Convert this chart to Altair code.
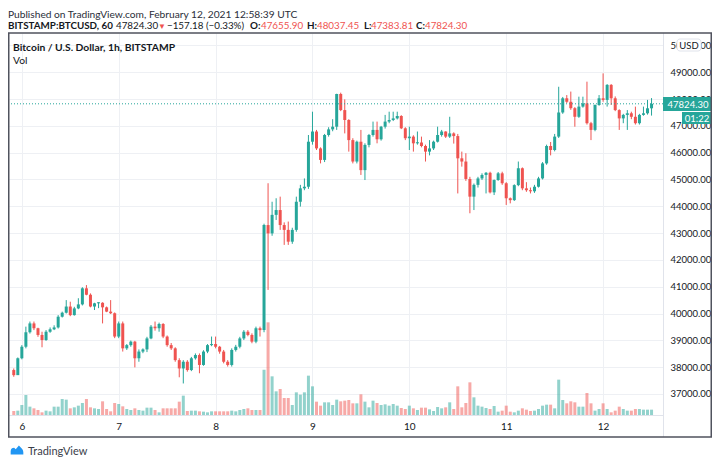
import altair as alt
import pandas as pd
import numpy as np

# ---- data (hourly candles, Feb 5 22:00 UTC -> Feb 12 12:00 UTC) ----
hours = list(range(159))
opens = [37890, 37700, 38330, 38760, 39300, 39630, 39450, 39200, 39010, 39320,
         39410, 39480, 39880, 40030, 40260, 39940, 40190, 40340, 40940, 40700,
         40260, 40380, 40400, 40230, 40070, 40010, 39140, 39630, 38700, 38820,
         38950, 38330, 38580, 38660, 39070, 39510, 39450, 39610, 39140, 38820,
         38700, 38260, 37950, 38200, 37890, 38330, 38450, 38080, 38580, 38820,
         38860, 38760, 38580, 38200, 38080, 38640, 38760, 39070, 39320, 39200,
         38950, 39450, 39380, 43300, 42990, 43680, 43860, 43300, 43120, 42680,
         43120, 44170, 44670, 44730, 46410, 46790, 46160, 45730, 46660, 46870,
         46970, 48190, 47590, 47220, 46470, 45670, 46410, 45350, 46290, 46660,
         46850, 46500, 46970, 47160, 47220, 47280, 47370, 46910, 46540, 46600,
         46350, 46380, 46250, 46040, 46160, 46410, 46660, 46790, 46600, 46720,
         46620, 45790, 45670, 45020, 44360, 44800, 45040, 45170, 45250, 44520,
         44980, 45230, 44860, 44300, 44230, 44790, 45420, 44670, 44600, 44560,
         44730, 45040, 45600, 46250, 46100, 46600, 47500, 48030, 47900, 47660,
         47340, 47720, 47840, 47100, 46850, 47780, 48030, 47970, 48530, 48030,
         47590, 47280, 47410, 47470, 47340, 47100, 47410, 47470, 47655.90]
highs = [37950, 38360, 38820, 39510, 39700, 39700, 39470, 39320, 39380, 39480,
         39560, 39940, 40070, 40500, 40440, 40250, 40570, 40980, 41060, 40750,
         40400, 40420, 40420, 40260, 40500, 40040, 39700, 39700, 38860, 38990,
         38980, 38660, 38700, 39130, 39570, 39700, 39660, 39640, 39180, 38900,
         38740, 38330, 38260, 38260, 38380, 38510, 38510, 38630, 38860, 39140,
         39140, 38790, 38640, 38260, 38700, 38830, 39130, 39380, 39380, 39260,
         39510, 39510, 43350, 44860, 44170, 44300, 44360, 43400, 43430, 43200,
         44360, 44800, 45040, 46660, 47530, 46850, 46200, 46700, 46950, 47250,
         48200, 48240, 47990, 47250, 46540, 46450, 46850, 46350, 46700, 47160,
         47160, 47000, 47410, 47530, 47530, 47530, 47400, 46950, 46970, 46650,
         46790, 46600, 46300, 46470, 46450, 46970, 46850, 46800, 47340, 46760,
         46700, 46040, 45980, 45100, 44850, 45100, 45230, 45280, 45290, 45000,
         45280, 45290, 44900, 44330, 44820, 45670, 45450, 44900, 44700, 44800,
         45100, 45650, 46300, 46400, 46700, 48460, 48080, 48150, 48280, 47700,
         48090, 48090, 48650, 47150, 47800, 48150, 48960, 48560, 48560, 48100,
         47620, 47450, 47590, 47530, 47720, 47450, 47720, 47970, 48037.45]
lows = [37640, 37740, 38290, 38700, 39250, 39380, 39130, 38740, 38980, 39280,
        39380, 39440, 39850, 40000, 39900, 39920, 40160, 40300, 40680, 40230,
        40130, 40200, 39630, 40050, 39980, 39080, 39080, 38580, 38640, 38760,
        37990, 38200, 38520, 38560, 39040, 39360, 39320, 39080, 38760, 38640,
        38200, 37620, 37390, 37830, 37850, 38280, 37770, 38050, 38520, 38780,
        38700, 38500, 38140, 38020, 38020, 38580, 38700, 39010, 39150, 38890,
        38890, 39140, 39300, 40880, 42900, 43490, 43120, 42560, 42560, 42600,
        43050, 43990, 44600, 44650, 46300, 46100, 45600, 45650, 46600, 46800,
        46850, 47550, 46720, 46040, 45600, 45600, 45170, 44980, 46200, 46600,
        46350, 46450, 46900, 47100, 47180, 47240, 46880, 46470, 46100, 46040,
        46300, 46200, 45670, 45900, 46100, 46380, 46600, 46550, 46550, 46340,
        44480, 45480, 44950, 43740, 43860, 44700, 44980, 44480, 44480, 44420,
        44950, 44800, 44050, 44110, 44200, 44750, 44600, 44540, 44480, 44500,
        44700, 45000, 45550, 45900, 46050, 46550, 47450, 47850, 47600, 46970,
        47300, 47680, 47050, 46470, 46800, 47750, 47900, 47720, 47780, 47550,
        46850, 47100, 46850, 47250, 47050, 47050, 47380, 47420, 47383.81]
closes = [37700, 38330, 38760, 39300, 39630, 39450, 39200, 39010, 39320, 39410,
          39480, 39880, 40030, 40260, 39940, 40190, 40340, 40940, 40700, 40260,
          40380, 40400, 40230, 40070, 40010, 39140, 39630, 38700, 38820, 38950,
          38330, 38580, 38660, 39070, 39510, 39450, 39610, 39140, 38820, 38700,
          38260, 37950, 38200, 37890, 38330, 38450, 38080, 38580, 38820, 38860,
          38760, 38580, 38200, 38080, 38640, 38760, 39070, 39320, 39200, 38950,
          39450, 39380, 43300, 42990, 43680, 43860, 43300, 43120, 42680, 43120,
          44170, 44670, 44730, 46410, 46790, 46160, 45730, 46660, 46870, 46970,
          48190, 47590, 47220, 46470, 45670, 46410, 45350, 46290, 46660, 46850,
          46500, 46970, 47160, 47220, 47280, 47370, 46910, 46540, 46600, 46350,
          46380, 46250, 46040, 46160, 46410, 46660, 46790, 46600, 46720, 46620,
          45790, 45670, 45020, 44360, 44800, 45040, 45170, 45250, 44520, 44980,
          45230, 44860, 44300, 44230, 44790, 45420, 44670, 44600, 44560, 44730,
          45040, 45600, 46250, 46100, 46600, 47500, 48030, 47900, 47660, 47340,
          47720, 47840, 47100, 46850, 47780, 48030, 47970, 48530, 48030, 47590,
          47280, 47410, 47470, 47340, 47100, 47410, 47470, 47656, 47824.30]
volumes = [12, 13, 30, 60, 25, 20, 15, 8, 13, 11,
           25, 25, 48, 46, 20, 23, 28, 36, 48, 23,
           20, 18, 41, 18, 11, 36, 33, 26, 18, 15,
           20, 15, 13, 22, 22, 15, 8, 20, 20, 20,
           20, 40, 58, 12, 13, 13, 11, 10, 8, 11,
           11, 11, 11, 11, 13, 11, 15, 18, 20, 15,
           15, 15, 136, 278, 116, 71, 78, 51, 51, 30,
           68, 61, 68, 118, 86, 40, 28, 38, 38, 30,
           46, 41, 43, 45, 35, 35, 62, 40, 23, 43,
           36, 30, 32, 28, 33, 28, 21, 18, 28, 20,
           15, 22, 22, 17, 12, 24, 20, 23, 38, 18,
           86, 23, 36, 98, 53, 28, 25, 21, 18, 27,
           10, 13, 28, 10, 8, 13, 20, 16, 12, 13,
           18, 28, 31, 31, 20, 106, 45, 35, 41, 38,
           25, 25, 66, 35, 13, 18, 35, 18, 8, 13,
           25, 18, 13, 13, 18, 18, 16, 16, 16]

day_ticks = [2, 26, 50, 74, 98, 122, 146]
day_labels = ['6', '7', '8', '9', '10', '11', '12']
price_ticks = list(range(37000, 50001, 1000))
last_price = 47824.30

# ---- styles ----
FONT = 'Lato'
TXT = '#131722'
GRID = '#eef0f4'
SEP = '#e0e3eb'
UP = '#26a69a'
DN = '#ef5350'
W, H = 655, 382

df = pd.DataFrame({'i': hours, 'o': opens, 'h': highs, 'l': lows, 'c': closes, 'v': volumes})
df['dir'] = np.where(df['c'] >= df['o'], 'up', 'down')
df['b0'] = np.minimum(df['o'], df['c'])
df['b1'] = np.maximum(np.maximum(df['o'], df['c']), df['b0'] + 40)

xscale = alt.Scale(domain=[-0.19, 159.6], nice=False, zero=False)
pscale = alt.Scale(domain=[36213, 50466], nice=False, zero=False)
vscale = alt.Scale(domain=[0, 1146], nice=False, zero=True)

lab_expr = ''
for t, s in zip(day_ticks, day_labels):
    lab_expr += f"datum.value == {t} ? '{s}' : "
lab_expr += "''"

xenc = alt.X('i:Q', scale=xscale,
             axis=alt.Axis(values=day_ticks, labelExpr=lab_expr, grid=True, gridColor=GRID,
                           ticks=False, domain=True, domainColor=SEP, labelFont=FONT,
                           labelFontSize=10, labelColor=TXT, labelPadding=6, title=None,
                           labelFlush=False, labelOverlap=False))

cdir = alt.Color('dir:N', scale=alt.Scale(domain=['up', 'down'], range=[UP, DN]), legend=None)

base = alt.Chart(df)

vol = base.mark_bar(size=3, opacity=0.5).encode(
    x=xenc, y=alt.Y('v:Q', scale=vscale, axis=None), color=cdir)

wick = base.mark_rule(strokeWidth=1).encode(
    x=xenc, y=alt.Y('l:Q', scale=pscale, axis=None), y2='h:Q', color=cdir)

body = base.mark_bar(size=3).encode(
    x=xenc,
    y=alt.Y('b0:Q', scale=pscale,
            axis=alt.Axis(orient='right', values=price_ticks, format='.2f', grid=True,
                          gridColor=GRID, ticks=False, domain=False, labelFont=FONT,
                          labelFontSize=9.5, labelColor=TXT, labelPadding=7, title=None,
                          labelOverlap=False, labelFlush=False)),
    y2='b1:Q', color=cdir)

pline = alt.Chart(pd.DataFrame({'p': [last_price]})).mark_rule(
    color=UP, strokeDash=[1, 2], strokeWidth=1).encode(y=alt.Y('p:Q', scale=pscale, axis=None))

one = pd.DataFrame({'k': [0]})


def txt(s, x, y, size=10, weight='normal', color=TXT, align='left', baseline='alphabetic'):
    return alt.Chart(one).mark_text(text=s, font=FONT, fontSize=size, fontWeight=weight,
                                    color=color, align=align, baseline=baseline).encode(
        x=alt.value(x), y=alt.value(y))


def box(x, x2, y, y2, fill, stroke=None, r=0):
    kw = dict(fill=fill, cornerRadius=r)
    if stroke:
        kw.update(stroke=stroke, strokeWidth=1)
    return alt.Chart(one).mark_rect(**kw).encode(
        x=alt.value(x), x2=alt.value(x2), y=alt.value(y), y2=alt.value(y2))


layers = [vol, wick, body, pline]

# price-scale separator
layers.append(alt.Chart(one).mark_rule(color=SEP, strokeWidth=1).encode(
    x=alt.value(W + 0.5), y=alt.value(0), y2=alt.value(404)))

# header
layers.append(txt('Published on TradingView.com, February 12, 2021 12:58:39 UTC', 0, -15, 10.2, color='#2a2e39'))
hy = -4.5
FS = 9.8
layers += [
    txt('BITSTAMP:BTCUSD, 60', 0, hy, FS, 'bold'),
    txt('47824.30', 108, hy, FS),
    txt('▼', 150, hy, 8, color=DN),
    txt('−157.18 (−0.33%)', 159, hy, FS),
    txt('O:', 242, hy, FS, 'bold'),
    txt('47655.90', 253, hy, FS, color=DN),
    txt('H:', 299, hy, FS, 'bold'),
    txt('48037.45', 309, hy, FS, color=DN),
    txt('L:', 356, hy, FS, 'bold'),
    txt('47383.81', 363, hy, FS, color=DN),
    txt('C:', 408, hy, FS, 'bold'),
    txt('47824.30', 417, hy, FS, color=DN),
]

# legend texts in pane
layers.append(txt('Bitcoin / U.S. Dollar, 1h, BITSTAMP', 5, 17.5, 10.3, 'bold'))
layers.append(txt('Vol', 5, 30.5, 10.3))

# USD badge
layers.append(box(669, 693, 6, 18, 'white', SEP, 3))
layers.append(txt('USD', 681, 12.5, 9.5, align='center', baseline='middle'))

# last price labels
layers.append(box(655, 704, 64, 78, UP))
layers.append(txt('47824.30', 680, 71.5, 9.5, color='white', align='center', baseline='middle'))
layers.append(box(674, 704, 79, 91, UP))
layers.append(txt('01:22', 689, 85.5, 9.5, color='white', align='center', baseline='middle'))

# outer frame
layers.append(alt.Chart(one).mark_rect(fill='white', fillOpacity=0, stroke='#50535e', strokeWidth=1.5).encode(
    x=alt.value(0.75), x2=alt.value(703.25), y=alt.value(0), y2=alt.value(404)))

# footer logo
logo_path = 'M -1 0.7 L -1 0.15 Q -0.95 -0.35 -0.45 -0.35 L -0.2 -0.1 L 0.3 -0.7 L 0.75 -0.25 Q 1.05 0.0 1 0.7 Z'
layers.append(alt.Chart(one).mark_point(shape=logo_path, filled=True, color='#2196f3', size=160, opacity=1).encode(
    x=alt.value(9), y=alt.value(417)))
layers.append(txt('TradingView', 20, 421.5, 11, color='#3a3e4a'))

chart = alt.layer(*layers).resolve_scale(y='independent').properties(
    width=W, height=H,
    autosize=alt.AutoSizeParams(type='none'),
    padding={'left': 0, 'top': 25, 'right': 49, 'bottom': 43},
    background='white',
).configure_view(strokeWidth=0)

chart.save('out.html', embed_options={'renderer': 'svg', 'actions': False})
